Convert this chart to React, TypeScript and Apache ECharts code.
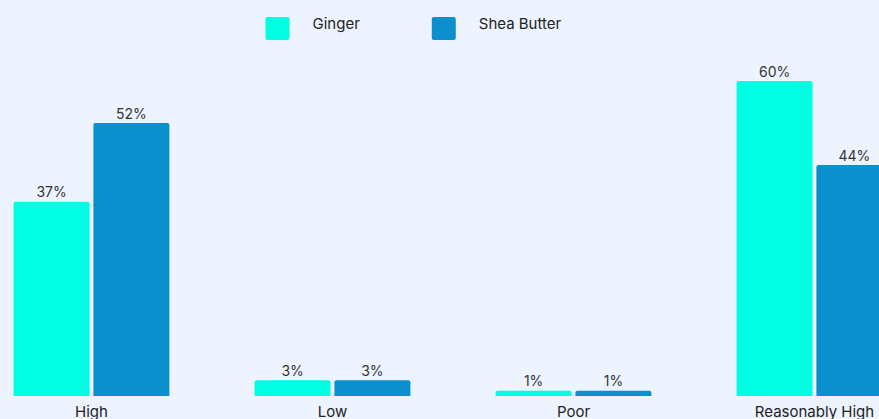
import React, { useEffect, useRef } from "react";
import * as echarts from "echarts";

const categories = ["High", "Low", "Poor", "Reasonably High"];
const gingerValues = [37, 3, 1, 60];
const sheaValues = [52, 3, 1, 44];
const seriesNames = ["Ginger", "Shea Butter"];

export default function App() {
  const ref = useRef<HTMLDivElement>(null);
  useEffect(() => {
    if (!ref.current) return;
    const chart = echarts.init(ref.current, undefined, { renderer: "svg" });
    const font = "Inter, 'Noto Sans', sans-serif";
    const labelCfg = {
      show: true,
      position: "top" as const,
      distance: 3,
      formatter: "{c}%",
      color: "#333",
      fontSize: 14,
      fontFamily: font,
    };
    chart.setOption({
      animation: false,
      backgroundColor: "#EDF4FF",
      legend: {
        top: 16,
        left: 265 + 29.5,
        padding: 0,
        itemWidth: 24,
        itemHeight: 23,
        itemGap: 72,
        icon: "path://M2,0 L22,0 Q24,0 24,2 L24,21 Q24,23 22,23 L2,23 Q0,23 0,21 L0,2 Q0,0 2,0 Z",
        formatter: "{a|{name}}",
        textStyle: {
          fontSize: 15,
          color: "#222",
          fontFamily: font,
          padding: [0, 0, 0, 18],
          rich: {
            a: {
              fontSize: 15,
              color: "#222",
              fontFamily: font,
              padding: [0, 0, 10, 0],
            },
          },
        },
        data: seriesNames,
      },
      grid: { left: 0, right: 0, top: 81, bottom: 23 },
      xAxis: {
        type: "category",
        data: categories,
        axisLine: { show: false },
        axisTick: { show: false },
        axisLabel: {
          color: "#222",
          fontSize: 15,
          margin: 8,
          fontFamily: font,
        },
      },
      yAxis: {
        type: "value",
        min: 0,
        max: 60,
        show: false,
        splitLine: { show: false },
      },
      series: [
        {
          name: seriesNames[0],
          type: "bar",
          data: gingerValues,
          barWidth: 76,
          barGap: "5%",
          itemStyle: { color: "#00FFE2", borderRadius: [2, 2, 0, 0] },
          label: labelCfg,
        },
        {
          name: seriesNames[1],
          type: "bar",
          data: sheaValues,
          barWidth: 76,
          barGap: "5%",
          itemStyle: { color: "#0B8FCF", borderRadius: [2, 2, 0, 0] },
          label: labelCfg,
        },
      ],
    });
    return () => chart.dispose();
  }, []);
  return (
    <div
      style={{
        position: "fixed",
        left: 0,
        top: 0,
        width: 879,
        height: 419,
        overflow: "hidden",
        background: "#EDF4FF",
      }}
    >
      <div
        ref={ref}
        style={{ position: "absolute", left: -29.5, top: 0, width: 964, height: 419 }}
      />
    </div>
  );
}
